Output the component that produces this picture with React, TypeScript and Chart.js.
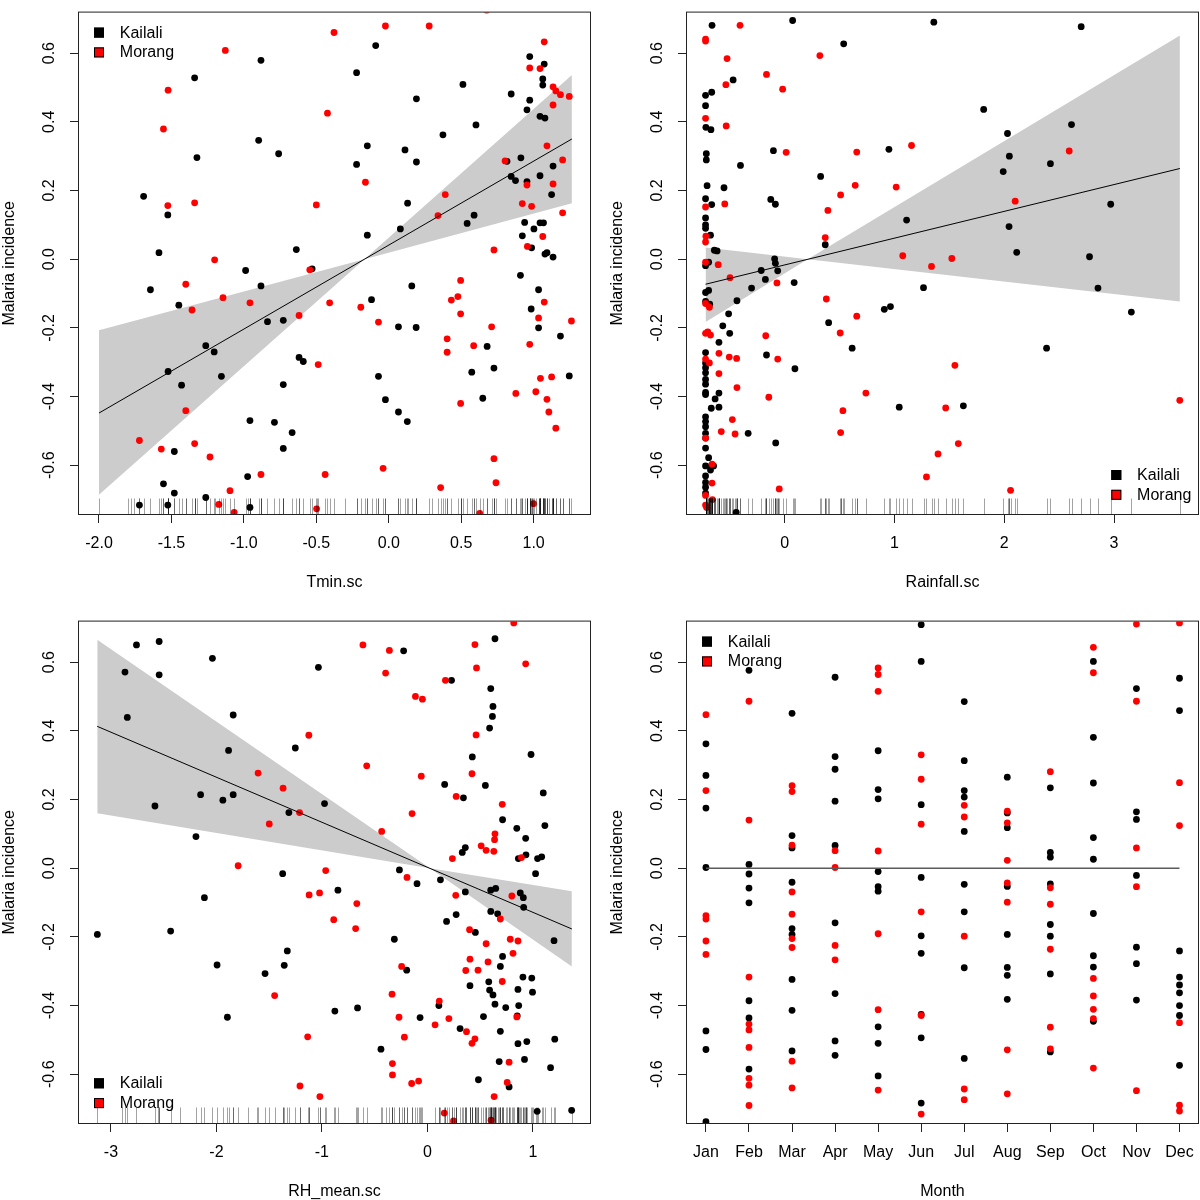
import React, { useEffect, useRef } from 'react';
import { Chart, registerables } from 'chart.js';
Chart.register(...registerables);

const FONT = '"Liberation Sans", Arial, Helvetica, sans-serif';

// ---------- shared ----------
const seriesNames = ['Kailali', 'Morang'];
const seriesColors = ['#000000', '#FF0000'];
const yTitle = 'Malaria incidence';
const yTickValues = [-0.6, -0.4, -0.2, 0, 0.2, 0.4, 0.6];
const yTickLabels = ['-0.6', '-0.4', '-0.2', '0.0', '0.2', '0.4', '0.6'];
const Y_MIN = -0.742;
const Y_MAX = 0.718;

// ---------- Panel 1: Tmin.sc ----------
const tminTicks = [-2.0, -1.5, -1.0, -0.5, 0, 0.5, 1.0];
const tminTickLabels = ['-2.0', '-1.5', '-1.0', '-0.5', '0.0', '0.5', '1.0'];
const tminKailali = [
  [-0.090,0.622],[0.973,0.590],[1.073,0.568],[-0.882,0.579],[-0.222,0.543],[-1.340,0.528],[0.512,0.509],[1.063,0.525],[1.063,0.507],[0.845,0.481],[0.973,0.463],[0.191,0.467],[0.954,0.435],[1.044,0.416],[1.078,0.411],[0.602,0.391],[0.374,0.362],[-0.898,0.346],[-0.148,0.330],[-0.760,0.307],[0.112,0.318],[-1.324,0.296],[0.912,0.295],[-0.222,0.276],[0.191,0.283],[0.816,0.285],[0.845,0.241],[0.875,0.229],[0.954,0.226],[1.044,0.243],[1.134,0.271],[1.124,0.188],[-1.692,0.183],[-1.525,0.129],[0.130,0.163],[0.541,0.104],[0.589,0.128],[0.938,0.107],[1.044,0.106],[1.068,0.106],[1.002,0.088],[0.922,0.068],[0.080,0.088],[-0.148,0.070],[0.986,0.033],[1.078,0.015],[1.092,0.019],[1.134,0.006],[-1.586,0.019],[-0.638,0.028],
  [-0.988,-0.033],[-0.529,-0.028],[-1.645,-0.089],[-0.882,-0.078],[-1.449,-0.134],[-0.837,-0.182],[-0.728,-0.178],[-1.263,-0.252],[-1.205,-0.270],[-1.523,-0.327],[-1.155,-0.341],[-1.430,-0.367],[-0.619,-0.286],[-0.590,-0.298],[-0.728,-0.365],[-0.958,-0.470],[-0.789,-0.475],[-0.667,-0.505],[-0.728,-0.551],[-1.480,-0.560],[-1.555,-0.654],[-1.480,-0.681],[-0.974,-0.633],[-1.263,-0.694],[-1.721,-0.716],[-1.525,-0.716],[-0.958,-0.723],[-0.119,-0.118],[0.159,-0.078],[0.067,-0.197],[0.189,-0.199],[-0.071,-0.341],[-0.023,-0.409],[0.067,-0.445],[0.128,-0.473],[0.909,-0.047],[1.034,-0.089],[0.983,-0.145],[1.034,-0.200],[1.185,-0.224],[0.679,-0.254],[0.573,-0.329],[0.726,-0.317],[0.649,-0.405],[1.246,-0.340],
];
const tminMorang = [
  [0.676,0.725],[-0.023,0.679],[0.279,0.679],[-0.378,0.660],[-1.128,0.608],[1.073,0.633],[-1.523,0.492],[-1.555,0.379],[-0.423,0.425],[0.973,0.557],[1.044,0.555],[1.134,0.502],[1.153,0.490],[1.185,0.479],[1.246,0.474],[1.134,0.449],[1.092,0.330],[1.200,0.289],[0.803,0.286],[-0.161,0.224],[0.954,0.216],[1.134,0.219],[0.390,0.188],[-1.525,0.156],[-1.340,0.164],[-0.500,0.158],[0.922,0.162],[0.986,0.154],[0.340,0.127],[1.200,0.135],[1.063,0.066],[0.957,0.037],[0.726,0.027],[-1.202,-0.002],
  [-0.545,-0.031],[-1.401,-0.073],[-1.144,-0.112],[-0.958,-0.127],[-1.358,-0.148],[-0.619,-0.164],[-0.408,-0.127],[-0.193,-0.140],[-0.071,-0.183],[-0.487,-0.307],[-1.401,-0.441],[-1.721,-0.528],[-1.570,-0.553],[-1.340,-0.537],[-1.234,-0.576],[-0.882,-0.627],[-1.096,-0.674],[-1.173,-0.714],[-1.067,-0.737],[-0.498,-0.727],[-0.439,-0.627],[-0.039,-0.609],[0.358,-0.665],[0.628,-0.740],[0.496,-0.062],[0.432,-0.119],[0.477,-0.109],[0.496,-0.159],[0.403,-0.232],[0.403,-0.271],[0.586,-0.252],[0.710,-0.197],[0.496,-0.420],[1.073,-0.125],[1.034,-0.171],[0.973,-0.248],[1.261,-0.180],[1.047,-0.347],[1.124,-0.343],[0.877,-0.391],[1.015,-0.386],[1.092,-0.408],[1.105,-0.445],[1.153,-0.492],[0.726,-0.581],[0.740,-0.651],[0.999,-0.712],
];
const tminRugExtra = [-2.0, -1.80, -1.78, -1.76, -0.30, 0.30];
const tminLineX = [-2.0, 1.264];
const tminLineY = [-0.448, 0.350];
const tminBandX = [-2.0, -0.168, 1.264];
const tminBandA = [-0.686, 0, 0.536];
const tminBandB = [-0.207, 0, 0.163];

// ---------- Panel 2: Rainfall.sc ----------
const rainTicks = [0, 1, 2, 3];
const rainTickLabels = ['0', '1', '2', '3'];
const rainKailali = [
  [-0.661,0.681],[0.073,0.695],[1.359,0.690],[2.701,0.677],[0.538,0.627],[-0.469,0.522],[-0.720,0.477],[-0.664,0.486],[-0.720,0.447],[-0.717,0.384],[-0.671,0.377],[1.813,0.436],[2.030,0.366],[2.613,0.392],[-0.102,0.316],[0.950,0.320],[2.047,0.300],[-0.713,0.307],[-0.713,0.289],[-0.402,0.273],[2.421,0.278],[1.991,0.255],[0.328,0.241],[-0.706,0.214],[-0.552,0.208],[-0.720,0.176],[-0.126,0.174],[-0.084,0.160],[-0.664,0.159],[2.970,0.160],[-0.720,0.120],[-0.720,0.100],[-0.720,0.090],[-0.675,0.070],[1.111,0.114],[2.044,0.095],[-0.640,0.026],[-0.615,0.024],[0.370,0.042],[2.114,0.020],[2.777,0.007],[-0.091,0.001],[-0.084,-0.012],[-0.692,-0.009],
  [-0.720,-0.019],[-0.213,-0.033],[-0.063,-0.034],[-0.175,-0.059],[0.087,-0.068],[-0.301,-0.084],[1.265,-0.083],[2.854,-0.084],[-0.692,-0.091],[-0.720,-0.097],[-0.434,-0.121],[-0.720,-0.123],[-0.682,-0.131],[-0.510,-0.159],[-0.563,-0.194],[-0.500,-0.216],[-0.598,-0.242],[0.908,-0.146],[0.964,-0.138],[3.158,-0.154],[0.401,-0.185],[-0.165,-0.279],[0.094,-0.319],[0.615,-0.259],[2.386,-0.259],[-0.720,-0.272],[-0.720,-0.302],[-0.720,-0.316],[-0.720,-0.331],[-0.720,-0.350],[-0.720,-0.364],[-0.720,-0.388],[-0.720,-0.394],[-0.598,-0.390],[-0.633,-0.407],[-0.598,-0.431],[-0.668,-0.434],[-0.720,-0.459],[-0.720,-0.473],[-0.720,-0.488],[-0.720,-0.507],[-0.720,-0.521],[-0.720,-0.550],[-0.332,-0.507],[-0.081,-0.535],[1.044,-0.431],[1.628,-0.427],[-0.720,-0.602],[-0.692,-0.578],[-0.668,-0.602],[-0.647,-0.602],[-0.675,-0.614],[-0.720,-0.631],[-0.720,-0.650],[-0.720,-0.664],[-0.720,-0.681],[-0.441,-0.737],
];
const rainMorang = [
  [-0.406,0.681],[-0.720,0.641],[-0.720,0.635],[0.321,0.593],[-0.524,0.584],[-0.165,0.538],[-0.535,0.508],[-0.018,0.495],[-0.720,0.410],[-0.532,0.388],[1.156,0.331],[0.014,0.311],[0.657,0.312],[2.592,0.315],[0.643,0.215],[1.016,0.210],[0.510,0.187],[-0.545,0.161],[-0.720,0.152],[0.394,0.142],[2.100,0.169],[-0.717,0.067],[-0.720,0.050],[0.370,0.063],[1.076,0.010],[1.523,0.002],[-0.720,-0.009],
  [-0.605,-0.016],[1.338,-0.021],[-0.497,-0.054],[-0.070,-0.069],[0.380,-0.116],[-0.720,-0.129],[-0.685,-0.140],[0.657,-0.166],[-0.720,-0.216],[-0.700,-0.212],[-0.675,-0.221],[-0.172,-0.223],[0.506,-0.215],[-0.598,-0.274],[-0.504,-0.285],[-0.437,-0.289],[-0.063,-0.291],[-0.720,-0.291],[-0.685,-0.302],[-0.598,-0.333],[1.551,-0.309],[-0.434,-0.374],[-0.144,-0.402],[0.740,-0.390],[0.531,-0.441],[1.467,-0.433],[-0.476,-0.467],[-0.577,-0.502],[-0.451,-0.509],[0.510,-0.505],[-0.720,-0.521],[1.582,-0.537],[1.397,-0.567],[1.292,-0.634],[-0.661,-0.597],[-0.661,-0.652],[-0.720,-0.688],[-0.657,-0.700],[-0.720,-0.716],[-0.710,-0.723],[-0.049,-0.669],[2.058,-0.673],[3.599,-0.411],
];
const rainRugExtra = [-0.70, -0.69, -0.66, -0.63];
const rainLineX = [-0.72, 3.6];
const rainLineY = [-0.073, 0.264];
const rainBandX = [-0.72, 0.21, 3.6];
const rainBandA = [-0.183, 0, 0.651];
const rainBandB = [0.034, 0, -0.123];

// ---------- Panel 3: RH_mean.sc ----------
const rhTicks = [-3, -2, -1, 0, 1];
const rhTickLabels = ['-3', '-2', '-1', '0', '1'];
const rhKailali = [
  [-2.758,0.650],[-2.543,0.660],[-2.867,0.571],[-2.543,0.563],[-2.845,0.439],[-2.038,0.611],[-1.841,0.446],[-1.885,0.343],[-2.583,0.181],[-2.150,0.214],[-1.939,0.198],[-1.841,0.214],[-2.194,0.092],[-1.252,0.350],[-1.033,0.585],[-1.313,0.162],[-0.975,0.188],[-0.225,0.633],[0.229,0.547],[0.641,0.668],[0.601,0.523],[0.622,0.471],[0.617,0.442],[0.590,0.408],[0.426,0.324],[0.983,0.331],[0.164,0.244],[0.550,0.241],[0.342,0.205],[1.099,0.219],[0.713,0.141],[0.848,0.116],[1.114,0.124],[0.932,0.087],[0.360,0.060],[0.331,0.046],[0.863,0.028],[0.935,0.039],[1.045,0.028],[1.084,0.033],
  [-1.372,-0.016],[-0.265,-0.005],[-0.098,-0.045],[0.124,-0.034],[-0.848,-0.064],[-2.114,-0.086],[0.360,-0.069],[0.601,-0.064],[0.648,-0.059],[0.881,-0.072],[0.910,-0.086],[0.913,-0.114],[0.601,-0.126],[0.666,-0.133],[1.026,-0.016],[0.273,-0.135],[0.182,-0.155],[-3.129,-0.193],[-2.434,-0.183],[-0.313,-0.207],[0.455,-0.187],[1.201,-0.211],[-1.328,-0.241],[-1.994,-0.282],[-1.357,-0.283],[-1.539,-0.307],[-0.196,-0.297],[0.713,-0.257],[0.692,-0.286],[0.906,-0.317],[0.990,-0.320],[0.582,-0.331],[0.590,-0.355],[0.622,-0.369],[0.404,-0.342],[0.859,-0.353],[0.997,-0.361],[0.641,-0.396],[0.743,-0.406],[0.866,-0.400],[0.109,-0.400],[-0.662,-0.407],[-0.877,-0.416],[-1.896,-0.434],[-0.069,-0.435],[0.532,-0.432],[0.852,-0.430],[0.310,-0.467],[0.692,-0.475],[0.859,-0.511],[0.943,-0.505],[1.208,-0.498],[-0.440,-0.527],[0.921,-0.557],[0.681,-0.563],[1.168,-0.581],[0.484,-0.616],[0.775,-0.637],[1.041,-0.708],[1.368,-0.705],
];
const rhMorang = [
  [-0.611,0.650],[-0.360,0.634],[-0.396,0.568],[0.451,0.651],[0.819,0.714],[0.466,0.583],[0.932,0.595],[0.171,0.547],[-0.113,0.500],[-0.047,0.492],[0.462,0.388],[-1.124,0.387],[-0.575,0.298],[-0.058,0.268],[0.423,0.275],[-1.605,0.277],[-1.368,0.233],[-1.212,0.162],[-1.499,0.129],[-0.145,0.159],[0.273,0.209],[0.710,0.186],[-0.433,0.107],[0.641,0.100],[0.637,0.083],[0.510,0.065],[0.557,0.052],[0.630,0.049],[0.237,0.028],[0.892,0.031],
  [-1.794,0.007],[-0.964,-0.007],[-0.193,-0.027],[-1.121,-0.078],[-1.022,-0.072],[-0.669,-0.103],[-0.888,-0.150],[-0.680,-0.176],[0.269,-0.079],[0.801,-0.081],[0.692,-0.148],[0.400,-0.179],[0.557,-0.220],[0.786,-0.207],[0.859,-0.212],[0.812,-0.248],[0.404,-0.265],[0.575,-0.273],[-0.244,-0.286],[0.364,-0.298],[0.480,-0.297],[0.710,-0.330],[-0.335,-0.367],[-1.448,-0.371],[0.113,-0.387],[-0.269,-0.434],[0.204,-0.438],[0.073,-0.456],[0.371,-0.476],[0.451,-0.497],[0.423,-0.510],[-0.218,-0.492],[-1.135,-0.491],[0.848,-0.433],[-0.331,-0.569],[-0.331,-0.602],[0.775,-0.565],[0.757,-0.624],[-0.149,-0.627],[-0.083,-0.620],[-1.208,-0.634],[-1.019,-0.665],[0.633,-0.665],[0.160,-0.713],[0.248,-0.736],[0.604,-0.734],
];
const rhRugExtra = [-2.9, -2.55, -2.35, -1.7, -1.62];
const rhLineX = [-3.13, 1.37];
const rhLineY = [0.413, -0.177];
const rhBandX = [-3.13, 0.025, 1.37];
const rhBandA = [0.665, 0, -0.286];
const rhBandB = [0.160, 0, -0.067];

// ---------- Panel 4: Month ----------
const months = ['Jan', 'Feb', 'Mar', 'Apr', 'May', 'Jun', 'Jul', 'Aug', 'Sep', 'Oct', 'Nov', 'Dec'];
const monthTicks = [1, 2, 3, 4, 5, 6, 7, 8, 9, 10, 11, 12];
const monthKailali = [
  [0.362, 0.270, 0.175, 0.002, -0.474, -0.528, -0.738],
  [0.576, 0.011, -0.017, -0.058, -0.101, -0.386, -0.436, -0.585],
  [0.451, 0.095, 0.059, -0.041, -0.176, -0.193, -0.324, -0.414, -0.532],
  [0.556, 0.325, 0.288, 0.195, 0.066, -0.159, -0.365, -0.503, -0.545],
  [0.342, 0.229, 0.202, -0.010, -0.054, -0.067, -0.462, -0.510, -0.605],
  [0.709, 0.602, 0.185, -0.027, -0.197, -0.248, -0.426, -0.494, -0.684],
  [0.485, 0.313, 0.226, 0.207, 0.107, -0.047, -0.127, -0.290, -0.554],
  [0.265, 0.161, 0.118, -0.053, -0.193, -0.289, -0.312, -0.382],
  [0.234, 0.046, 0.032, -0.046, -0.164, -0.198, -0.308, -0.535],
  [0.602, 0.381, 0.248, 0.089, 0.026, -0.132, -0.255, -0.288, -0.446],
  [0.523, 0.164, 0.142, -0.021, -0.230, -0.278, -0.384],
  [0.553, 0.459, -0.241, -0.317, -0.340, -0.363, -0.400, -0.429, -0.574],
];
const monthMorang = [
  [0.447, 0.226, -0.138, -0.148, -0.212, -0.251],
  [0.486, 0.140, -0.317, -0.454, -0.471, -0.522, -0.612, -0.632, -0.691],
  [0.240, 0.223, 0.067, -0.069, -0.134, -0.205, -0.231, -0.562, -0.640],
  [0.051, 0.002, -0.225, -0.267],
  [0.583, 0.564, 0.515, 0.050, -0.191, -0.412, -0.646],
  [0.330, 0.259, 0.128, -0.127, -0.429, -0.716],
  [0.183, 0.149, -0.198, -0.643, -0.674],
  [0.166, 0.132, 0.023, -0.043, -0.099, -0.529, -0.657],
  [0.281, -0.057, -0.105, -0.236, -0.463, -0.526],
  [0.643, 0.569, -0.321, -0.372, -0.411, -0.438, -0.582],
  [0.711, 0.486, 0.059, -0.054, -0.648],
  [0.714, 0.249, 0.124, -0.450, -0.690, -0.707],
];
const monthLineX = [1, 12];
const monthLineY = [0, 0];

// ---------- layout constants (panel-local pixels) ----------
const CW = 600, CH = 600;
const PL = 79, PR = 590, PT = 3, PB = 514;

type Pt = { x: number; y: number };
const toPts = (arr: number[][]): Pt[] => arr.map(([x, y]) => ({ x, y }));
const byMonth = (arr: number[][]): Pt[] => {
  const out: Pt[] = [];
  arr.forEach((vals, i) => vals.forEach((y) => out.push({ x: monthTicks[i], y })));
  return out;
};

type PanelCfg = {
  left: number; top: number;
  xMin: number; xMax: number;
  xTicks: number[]; xTickLabels: string[]; xTitle: string;
  kailali: Pt[]; morang: Pt[];
  lineX: number[]; lineY: number[]; lineColor: string; lineWidth: number;
  bandX?: number[]; bandA?: number[]; bandB?: number[];
  rug?: number[];
  legend: 'topleft' | 'bottomleft' | 'bottomright';
};

const panels: PanelCfg[] = [
  {
    left: 0, top: 0, xMin: -2.138, xMax: 1.389,
    xTicks: tminTicks, xTickLabels: tminTickLabels, xTitle: 'Tmin.sc',
    kailali: toPts(tminKailali), morang: toPts(tminMorang),
    lineX: tminLineX, lineY: tminLineY, lineColor: '#000000', lineWidth: 1,
    bandX: tminBandX, bandA: tminBandA, bandB: tminBandB,
    rug: [...tminKailali.map((p) => p[0]), ...tminMorang.map((p) => p[0]), ...tminRugExtra],
    legend: 'topleft',
  },
  {
    left: 608, top: 0, xMin: -0.889, xMax: 3.765,
    xTicks: rainTicks, xTickLabels: rainTickLabels, xTitle: 'Rainfall.sc',
    kailali: toPts(rainKailali), morang: toPts(rainMorang),
    lineX: rainLineX, lineY: rainLineY, lineColor: '#000000', lineWidth: 1,
    bandX: rainBandX, bandA: rainBandA, bandB: rainBandB,
    rug: [...rainKailali.map((p) => p[0]), ...rainMorang.map((p) => p[0]), ...rainRugExtra],
    legend: 'bottomright',
  },
  {
    left: 0, top: 609, xMin: -3.303, xMax: 1.542,
    xTicks: rhTicks, xTickLabels: rhTickLabels, xTitle: 'RH_mean.sc',
    kailali: toPts(rhKailali), morang: toPts(rhMorang),
    lineX: rhLineX, lineY: rhLineY, lineColor: '#000000', lineWidth: 1,
    bandX: rhBandX, bandA: rhBandA, bandB: rhBandB,
    rug: [...rhKailali.map((p) => p[0]), ...rhMorang.map((p) => p[0]), ...rhRugExtra],
    legend: 'bottomleft',
  },
  {
    left: 608, top: 609, xMin: 0.56, xMax: 12.43,
    xTicks: monthTicks, xTickLabels: months, xTitle: 'Month',
    kailali: byMonth(monthKailali), morang: byMonth(monthMorang),
    lineX: monthLineX, lineY: monthLineY, lineColor: '#5a5a5a', lineWidth: 1.6,
    legend: 'topleft',
  },
];

function Panel({ cfg }: { cfg: PanelCfg }) {
  const ref = useRef<HTMLCanvasElement | null>(null);
  useEffect(() => {
    if (!ref.current) return;

    const rugPlugin = {
      id: 'rug',
      afterDatasetsDraw(chart: any) {
        if (!cfg.rug) return;
        const { ctx, chartArea: a } = chart;
        const xs = chart.scales.x;
        ctx.save();
        ctx.beginPath();
        ctx.rect(a.left, a.top, a.right - a.left, a.bottom - a.top);
        ctx.clip();
        ctx.strokeStyle = 'rgba(0,0,0,0.36)';
        ctx.lineWidth = 1;
        cfg.rug.forEach((v) => {
          const px = Math.round(xs.getPixelForValue(v)) + 0.5;
          ctx.beginPath();
          ctx.moveTo(px, a.bottom);
          ctx.lineTo(px, a.bottom - 15.5);
          ctx.stroke();
        });
        ctx.restore();
      },
    };

    const framePlugin = {
      id: 'frame',
      afterDraw(chart: any) {
        const { ctx, chartArea: a } = chart;
        const ys = chart.scales.y;
        ctx.save();
        ctx.strokeStyle = '#222';
        ctx.lineWidth = 1;
        ctx.strokeRect(a.left - 0.5, a.top - 0.5, a.right - a.left + 1, a.bottom - a.top + 1);
        ctx.fillStyle = '#000';
        ctx.font = `16px ${FONT}`;
        ctx.textAlign = 'center';
        ctx.textBaseline = 'middle';
        ys.ticks.forEach((t: any, i: number) => {
          const py = ys.getPixelForValue(t.value);
          ctx.save();
          ctx.translate(a.left - 29, py);
          ctx.rotate(-Math.PI / 2);
          ctx.fillText(yTickLabels[i], 0, 0);
          ctx.restore();
        });
        let cx: number, cy: number;
        if (cfg.legend === 'topleft') { cx = a.left + 20; cy = a.top + 20; }
        else if (cfg.legend === 'bottomleft') { cx = a.left + 20; cy = a.bottom - 39.7; }
        else { cx = a.right - 81.7; cy = a.bottom - 39; }
        ctx.textAlign = 'left';
        seriesNames.forEach((name, i) => {
          const yy = cy + i * 19.8;
          ctx.fillStyle = seriesColors[i];
          ctx.fillRect(cx - 5, yy - 5, 10, 10);
          ctx.strokeStyle = '#000';
          ctx.lineWidth = 1;
          ctx.strokeRect(cx - 4.5, yy - 4.5, 9, 9);
          ctx.fillStyle = '#000';
          ctx.fillText(name, cx + 20.8, yy + 0.5);
        });
        ctx.restore();
      },
    };

    const datasets: any[] = [
      {
        type: 'line', label: 'fit',
        data: cfg.lineX.map((x, i) => ({ x, y: cfg.lineY[i] })),
        borderColor: cfg.lineColor, borderWidth: cfg.lineWidth,
        pointRadius: 0, fill: false, order: 0,
      },
      {
        type: 'scatter', label: seriesNames[1], data: cfg.morang,
        backgroundColor: seriesColors[1], borderColor: seriesColors[1],
        pointRadius: 3.4, pointBorderWidth: 0, borderWidth: 0, order: 1,
      },
      {
        type: 'scatter', label: seriesNames[0], data: cfg.kailali,
        backgroundColor: seriesColors[0], borderColor: seriesColors[0],
        pointRadius: 3.4, pointBorderWidth: 0, borderWidth: 0, order: 2,
      },
    ];
    if (cfg.bandX && cfg.bandA && cfg.bandB) {
      datasets.push({
        type: 'line', label: 'bandA',
        data: cfg.bandX.map((x, i) => ({ x, y: cfg.bandA![i] })),
        borderColor: 'rgba(0,0,0,0)', borderWidth: 0, pointRadius: 0, fill: false, order: 3,
      });
      datasets.push({
        type: 'line', label: 'bandB',
        data: cfg.bandX.map((x, i) => ({ x, y: cfg.bandB![i] })),
        borderColor: 'rgba(0,0,0,0)', borderWidth: 0, pointRadius: 0,
        fill: '-1', backgroundColor: '#CCCCCC', order: 4,
      });
    }

    const tickFont = { size: 16, family: FONT };
    const chart = new Chart(ref.current, {
      type: 'scatter',
      data: { datasets },
      options: {
        animation: false,
        responsive: false,
        devicePixelRatio: 1,
        events: [],
        layout: { padding: { left: 0, top: PT, right: CW - PR, bottom: 0 } },
        plugins: { legend: { display: false }, tooltip: { enabled: false } },
        scales: {
          x: {
            type: 'linear', min: cfg.xMin, max: cfg.xMax,
            afterBuildTicks: (s: any) => { s.ticks = cfg.xTicks.map((v) => ({ value: v })); },
            afterFit: (s: any) => { s.height = CH - PB; },
            ticks: {
              autoSkip: false, maxRotation: 0, minRotation: 0, padding: 10.5,
              color: '#000', font: tickFont,
              callback: (_v: any, i: number) => cfg.xTickLabels[i],
            },
            grid: { display: true, drawOnChartArea: false, drawTicks: true, tickLength: 9, color: '#222', lineWidth: 1 },
            border: { display: false },
            title: { display: true, text: cfg.xTitle, color: '#000', font: tickFont, padding: { top: 0, bottom: 8 } },
          },
          y: {
            type: 'linear', min: Y_MIN, max: Y_MAX,
            afterBuildTicks: (s: any) => { s.ticks = yTickValues.map((v) => ({ value: v })); },
            afterFit: (s: any) => { s.width = PL; },
            ticks: { color: 'rgba(0,0,0,0)', font: tickFont, autoSkip: false },
            grid: { display: true, drawOnChartArea: false, drawTicks: true, tickLength: 9, color: '#222', lineWidth: 1 },
            border: { display: false },
            title: { display: true, text: yTitle, color: '#000', font: tickFont, padding: { top: 0, bottom: 0 } },
          },
        },
      } as any,
      plugins: [rugPlugin, framePlugin],
    } as any);
    return () => chart.destroy();
  }, [cfg]);

  return (
    <div style={{ position: 'absolute', left: cfg.left, top: cfg.top, width: CW, height: CH }}>
      <canvas ref={ref} width={CW} height={CH} style={{ display: 'block', width: CW, height: CH }} />
    </div>
  );
}

export default function App() {
  return (
    <div style={{ position: 'fixed', left: 0, top: 0, width: 1200, height: 1200, overflow: 'hidden', background: '#ffffff' }}>
      {panels.map((p, i) => <Panel key={i} cfg={p} />)}
    </div>
  );
}
